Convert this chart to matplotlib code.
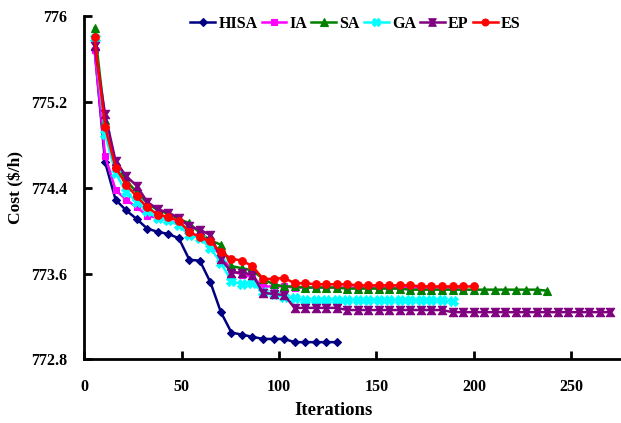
import numpy as np
import matplotlib
matplotlib.use('Agg')
import matplotlib.pyplot as plt
from matplotlib.path import Path

plt.rcParams['font.family'] = ['Liberation Serif', 'DejaVu Serif']
plt.rcParams['font.weight'] = 'bold'

# ------ DATA (cost in $/h, one point every recorded step)
iter_step = 5.4

hisa = [775.70, 774.64, 774.29, 774.19, 774.11, 774.02, 773.99, 773.97, 773.93, 773.73,
        773.72, 773.52, 773.24, 773.05, 773.03, 773.01, 772.99, 772.99, 772.99, 772.96,
        772.96, 772.96, 772.96, 772.96]
ia = [775.69, 774.70, 774.38, 774.29, 774.22, 774.14, 774.12, 774.10, 774.06, 773.96,
      773.94, 773.87, 773.77, 773.63, 773.59, 773.57, 773.48, 773.48, 773.48, 773.47,
      773.47, 773.47, 773.47, 773.47, 773.47, 773.47, 773.47, 773.47, 773.47, 773.47,
      773.47, 773.47, 773.47, 773.47, 773.47, 773.47]
sa = [775.89, 775.03, 774.62, 774.47, 774.36, 774.26, 774.19, 774.16, 774.11, 774.07,
      773.98, 773.91, 773.87, 773.67, 773.65, 773.63, 773.55, 773.50, 773.48, 773.48,
      773.47, 773.47, 773.47, 773.47, 773.46, 773.46, 773.46, 773.46, 773.46, 773.46,
      773.45, 773.45, 773.45, 773.45, 773.45, 773.45, 773.45, 773.45, 773.45, 773.45,
      773.45, 773.45, 773.45, 773.44]
ga = [775.80, 774.90, 774.54, 774.36, 774.27, 774.18, 774.12, 774.10, 774.05, 773.96,
      773.93, 773.84, 773.70, 773.53, 773.50, 773.51, 773.43, 773.41, 773.38, 773.37,
      773.35, 773.35, 773.35, 773.35, 773.35, 773.35, 773.35, 773.35, 773.35, 773.35,
      773.35, 773.35, 773.35, 773.35, 773.34]
ep = [775.72, 775.09, 774.65, 774.51, 774.42, 774.27, 774.20, 774.17, 774.12, 774.04,
      774.01, 773.96, 773.74, 773.61, 773.61, 773.59, 773.42, 773.41, 773.40, 773.28,
      773.28, 773.28, 773.28, 773.28, 773.26, 773.26, 773.26, 773.26, 773.26, 773.26,
      773.26, 773.26, 773.26, 773.26, 773.24, 773.24, 773.24, 773.24, 773.24, 773.24,
      773.24, 773.24, 773.24, 773.24, 773.24, 773.24, 773.24, 773.24, 773.24, 773.24]
es = [775.81, 774.97, 774.59, 774.43, 774.32, 774.22, 774.15, 774.13, 774.09, 773.99,
      773.94, 773.90, 773.80, 773.74, 773.72, 773.67, 773.55, 773.55, 773.56, 773.51,
      773.51, 773.50, 773.50, 773.50, 773.50, 773.49, 773.49, 773.49, 773.49, 773.49,
      773.49, 773.48, 773.48, 773.48, 773.48, 773.48, 773.48]

x_ticks = [0, 50, 100, 150, 200, 250]
y_ticks = [772.8, 773.6, 774.4, 775.2, 776]
y_labels = ['772.8', '773.6', '774.4', '775.2', '776']

# bow-tie marker for EP
bowtie = Path([(-1, 1), (1, 1), (0.35, 0), (1, -1), (-1, -1), (-0.35, 0), (-1, 1)],
              [Path.MOVETO] + [Path.LINETO] * 5 + [Path.CLOSEPOLY])

series = [
    ('HISA', hisa, '#000080', 'D', 4.5),
    ('IA', ia, '#FF00FF', 's', 5),
    ('SA', sa, '#008000', '^', 6),
    ('GA', ga, '#00FFFF', 'X', 6.5),
    ('EP', ep, '#800080', bowtie, 6),
    ('ES', es, '#FF0000', 'o', 5.5),
]

fig = plt.figure(figsize=(6.21, 4.23), dpi=100)
ax = fig.add_axes([0.1353, 0.1506, 0.8647, 0.8104])

for name, vals, col, mk, ms in series:
    x = np.arange(1, len(vals) + 1) * iter_step
    ax.plot(x, vals, color=col, marker=mk, markersize=ms, linewidth=1.8,
            markeredgewidth=0.8, label=name, clip_on=False)

ax.set_xlim(0, 275.4)
ax.set_ylim(772.8, 776)
ax.set_xticks(x_ticks)
ax.set_yticks(y_ticks)
ax.set_yticklabels(y_labels)

for s in ['top', 'right']:
    ax.spines[s].set_visible(False)
for s in ['left', 'bottom']:
    ax.spines[s].set_linewidth(2)
ax.tick_params(direction='in', width=2, length=6, labelsize=11.5)
ax.tick_params(axis='x', pad=14)
ax.tick_params(axis='y', pad=12)

ax.set_xlabel('Iterations', fontsize=13.5, fontweight='bold')
ax.xaxis.set_label_coords(0.464, -0.125)
ax.set_ylabel('Cost ($/h)', fontsize=12.5, fontweight='bold')
ax.yaxis.set_label_coords(-0.111, 0.5)

ax.legend(loc='upper left', bbox_to_anchor=(0.186, 1.02), ncol=6, frameon=False,
          fontsize=11.5, handlelength=1.56, handletextpad=0.2, columnspacing=0.25,
          borderaxespad=0, markerscale=0.9)

fig.savefig('out.png', dpi=100)
